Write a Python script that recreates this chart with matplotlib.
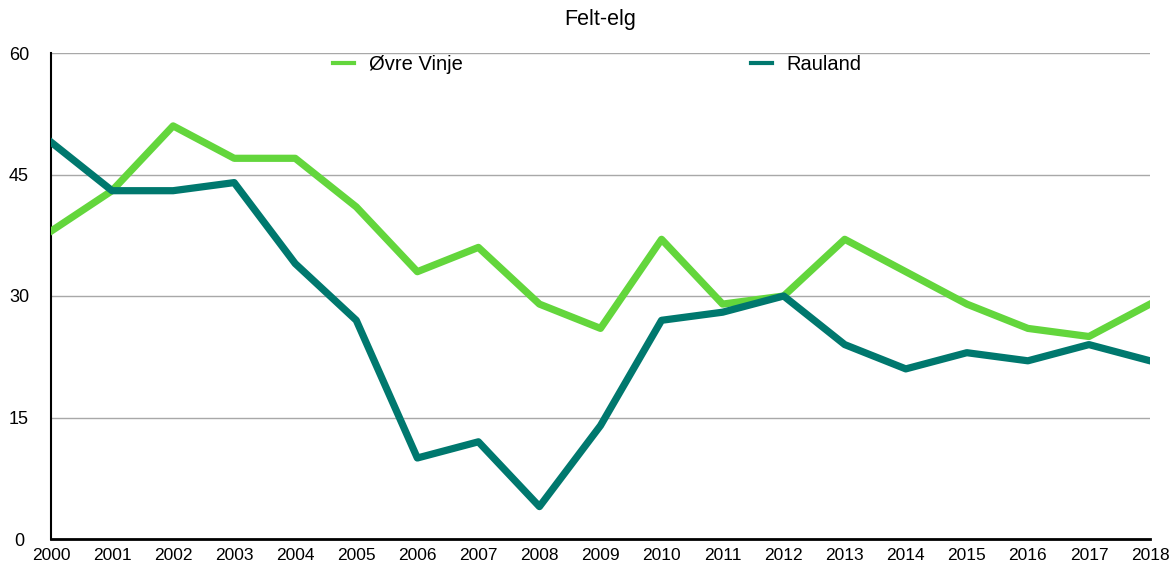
import matplotlib
matplotlib.use("Agg")
import matplotlib.pyplot as plt
from matplotlib.lines import Line2D

years = list(range(2000, 2019))
ovre_vinje = [38, 43, 51, 47, 47, 41, 33, 36, 29, 26, 37, 29, 30, 37, 33, 29, 26, 25, 29]
rauland = [49, 43, 43, 44, 34, 27, 10, 12, 4, 14, 27, 28, 30, 24, 21, 23, 22, 24, 22]
yticks = [0, 15, 30, 45, 60]
title = "Felt-elg"

plt.rcParams['font.family'] = ['Liberation Sans', 'DejaVu Sans']

c_ovre = '#63d63c'
c_raul = '#00786e'

fig = plt.figure(figsize=(11.7, 5.66), dpi=100)
ax = fig.add_axes([51/1170, 1-539/566, (1150-51)/1170, (539-53)/566])

ax.plot(years, ovre_vinje, color=c_ovre, lw=5.2, zorder=3)
ax.plot(years, rauland, color=c_raul, lw=5.2, zorder=3)

ax.set_xlim(2000, 2018)
ax.set_ylim(0, 60)
ax.set_xticks(years)
ax.set_xticklabels([str(y) for y in years], fontsize=12.5)
ax.set_yticks(yticks)
ax.set_yticklabels([str(v) for v in yticks], fontsize=13, ha='center')
ax.tick_params(axis='y', length=0, pad=23)
ax.tick_params(axis='x', length=0, pad=6.5)
for v in yticks[1:]:
    ax.axhline(v, color='#a8a8a8', lw=1, zorder=1)
for s in ['top', 'right']:
    ax.spines[s].set_visible(False)
ax.spines['left'].set_linewidth(1.5)
ax.spines['bottom'].set_linewidth(2)

handles = [Line2D([], [], color=c_ovre, lw=3), Line2D([], [], color=c_raul, lw=3)]
ax.legend(handles, ['Øvre Vinje', 'Rauland'], loc='upper center',
          bbox_to_anchor=(0.497, 1.012), ncol=2, frameon=False,
          fontsize=14.5, handlelength=1.05, handletextpad=0.72, columnspacing=14.3,
          borderaxespad=0.0)

fig.text(600/1170, 1-20/566, title, ha='center', va='center', fontsize=15.5)

fig.savefig('out.png', dpi=100)
